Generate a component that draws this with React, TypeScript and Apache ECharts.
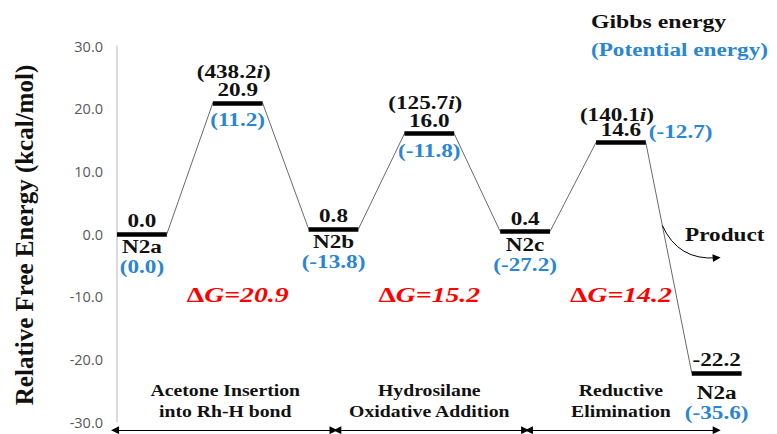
import React, { useEffect, useRef } from "react";
import * as echarts from "echarts";

// Free-energy profile of the Rh-catalysed hydrosilylation cycle
const stateNames = ["N2a", "TS1", "N2b", "TS2", "N2c", "TS3", "N2a"];
const gibbs = [0.0, 20.9, 0.8, 16.0, 0.4, 14.6, -22.2];
const potential = [0.0, 11.2, -13.8, -11.8, -27.2, -12.7, -35.6];
const imagFreq: (number | null)[] = [null, 438.2, null, 125.7, null, 140.1, null];
const barriers = [20.9, 15.2, 14.2];
const stepLabels = [
  "Acetone Insertion\ninto Rh-H bond",
  "Hydrosilane\nOxidative Addition",
  "Reductive\nElimination",
];
const yMin = -30;
const yMax = 30;
const yInterval = 10;

const HW = 0.26; // half width of an energy level, in state units
const SERIF = "Liberation Serif, Times New Roman, serif";
const SANS = "Open Sans, sans-serif";
const BLUE = "#2a85d3";
const RED = "#ff0000";
const INK = "#111111";
const SX = 1.22;

export default function App() {
  const ref = useRef<HTMLDivElement>(null);

  useEffect(() => {
    const chart = echarts.init(ref.current!, null, { renderer: "svg" });

    const levelData = gibbs.map((g, i) => ({
      coords: [
        [i - HW, g],
        [i + HW, g],
      ],
    }));
    const pathData = gibbs.flatMap((g, i) => [
      [i - HW, g],
      [i + HW, g],
    ]);
    const arrowY = -31.3;
    const stepArrows = barriers.map((_, k) => ({
      coords: [
        [k === 0 ? -HW - 0.02 : 2 * k + 0.04, arrowY],
        [2 * k + 2, arrowY],
      ],
    }));

    // product branch: leaves the TS3 -> N2a connector part way down
    const a = [5 + HW, gibbs[5]];
    const b = [6 - HW, gibbs[6]];
    const t = 0.36;
    const productStart = [a[0] + (b[0] - a[0]) * t, a[1] + (b[1] - a[1]) * t];
    const productEnd = [6.0, -3.8];

    chart.setOption({
      animation: false,
      grid: { left: 117, right: 12.4, top: 46, bottom: 12 },
      xAxis: { type: "value", min: -HW, max: 6.5, show: false },
      yAxis: {
        type: "value",
        min: yMin,
        max: yMax,
        interval: yInterval,
        axisLine: { show: true, onZero: false, lineStyle: { color: "#cfcfcf", width: 1.5 } },
        axisTick: { show: false },
        splitLine: { show: false },
        axisLabel: {
          color: "#595959",
          fontFamily: SANS,
          fontSize: 14.5,
          margin: 14,
          formatter: (v: number) => v.toFixed(1),
        },
      },
      series: [
        {
          type: "line",
          data: pathData,
          symbol: "none",
          lineStyle: { color: "#6a6a6a", width: 1 },
          z: 2,
        },
        {
          type: "lines",
          coordinateSystem: "cartesian2d",
          data: levelData,
          lineStyle: { color: "#000", width: 4.5, opacity: 1 },
          z: 3,
        },
        {
          type: "lines",
          coordinateSystem: "cartesian2d",
          clip: false,
          data: stepArrows,
          symbol: ["triangle", "triangle"],
          symbolSize: 8,
          lineStyle: { color: "#000", width: 1, opacity: 1 },
          z: 3,
        },
        {
          type: "lines",
          coordinateSystem: "cartesian2d",
          clip: false,
          data: [{ coords: [productStart, productEnd] }],
          symbol: ["none", "triangle"],
          symbolSize: 8,
          lineStyle: { color: "#000", width: 1, opacity: 1, curveness: -0.35 },
          z: 3,
        },
      ],
    });

    const px = (x: number, y: number) => chart.convertToPixel({ gridIndex: 0 }, [x, y]) as number[];

    const txt = (
      x: number,
      y: number,
      text: string,
      o: {
        fill?: string;
        size?: number;
        italic?: boolean;
        align?: string;
        sx?: number;
        rich?: any;
        lineHeight?: number;
      } = {}
    ) => ({
      type: "text",
      x,
      y,
      scaleX: o.sx ?? SX,
      silent: true,
      style: {
        text,
        fill: o.fill || INK,
        fontFamily: SERIF,
        fontWeight: "bold",
        fontSize: o.size || 19,
        fontStyle: o.italic ? "italic" : "normal",
        align: o.align || "center",
        verticalAlign: "middle",
        lineHeight: o.lineHeight,
        rich: o.rich,
      },
    });

    const graphics: any[] = [];

    gibbs.forEach((g, i) => {
      const [cx, cy] = px(i, g);
      const isTS = imagFreq[i] != null;
      const last = i === gibbs.length - 1;
      graphics.push(txt(cx, cy - 13, g.toFixed(1)));
      const pot = `(${potential[i].toFixed(1)})`;
      if (isTS) {
        const f = imagFreq[i] as number;
        graphics.push(
          txt(cx - 4, cy - (i === 5 ? 28 : 31), `(${f.toFixed(1)}{i|i})`, {
            rich: {
              i: { fontFamily: SERIF, fontWeight: "bold", fontStyle: "italic", fontSize: 19, fill: INK },
            },
          })
        );
        if (i === 5) {
          const [rx] = px(i + HW, g);
          graphics.push(txt(rx + 3, cy - 11, pot, { fill: BLUE, align: "left" }));
        } else {
          graphics.push(txt(cx, cy + 17, pot, { fill: BLUE }));
        }
      } else {
        const extra = last ? 7 : 0;
        graphics.push(txt(cx, cy + 13 + extra, stateNames[i]));
        graphics.push(txt(cx, cy + 33 + extra, pot, { fill: BLUE }));
      }
    });

    barriers.forEach((dg, k) => {
      const [x, y] = px(2 * k + 1, -9.7);
      graphics.push(
        txt(x, y, `{d|Δ}{g|G=${dg.toFixed(1)}}`, {
          fill: RED,
          size: 21,
          sx: 1.32,
          rich: {
            d: { fontFamily: SERIF, fontWeight: "bold", fontSize: 21, fill: RED },
            g: { fontFamily: SERIF, fontWeight: "bold", fontStyle: "italic", fontSize: 21, fill: RED },
          },
        })
      );
    });

    stepLabels.forEach((s, k) => {
      const x0 = k === 0 ? -HW : 2 * k;
      const [x, y] = px((x0 + 2 * k + 2) / 2, -26.7);
      graphics.push(txt(x, y, s, { size: 17, sx: 1.16, lineHeight: 21 }));
    });

    const [prx, pry] = px(5.67, -0.1);
    graphics.push(txt(prx, pry, "Product", { align: "left" }));

    graphics.push(txt(591, 22, "Gibbs energy", { align: "left", sx: 1.25 }));
    graphics.push(txt(591, 50, "(Potential energy)", { align: "left", fill: BLUE }));

    graphics.push({
      type: "text",
      x: 24,
      y: 235,
      rotation: Math.PI / 2,
      silent: true,
      style: {
        text: "Relative Free Energy (kcal/mol)",
        fill: INK,
        fontFamily: SERIF,
        fontWeight: "bold",
        fontSize: 25,
        align: "center",
        verticalAlign: "middle",
      },
    });

    chart.setOption({ graphic: graphics });

    return () => chart.dispose();
  }, []);

  return (
    <div
      ref={ref}
      style={{ position: "fixed", left: 0, top: 0, width: 777, height: 434, background: "#fff" }}
    />
  );
}
